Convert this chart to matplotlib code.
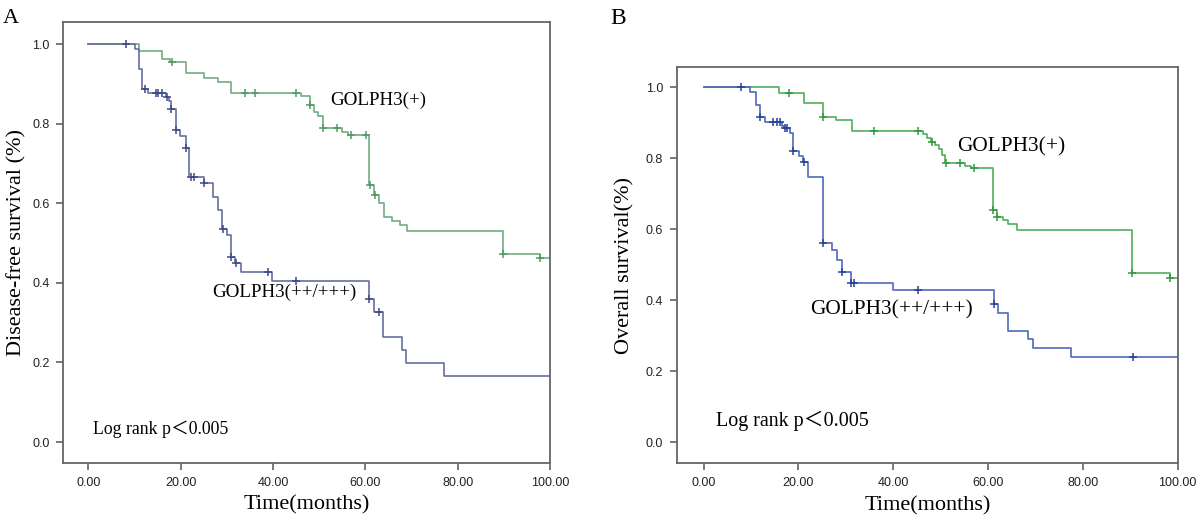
import numpy as np
import matplotlib
matplotlib.use("Agg")
import matplotlib.pyplot as plt

# ---------------- data ----------------
# Panel A: disease-free survival
a_pos_t = [0, 10.9, 16.0, 17.6, 21.1, 25.0, 28.1, 30.9, 46.0, 48.0, 48.9, 49.8, 50.9,
           55.0, 56.3, 60.8, 61.8, 62.9, 64.0, 65.8, 67.6, 69.0, 89.9, 97.8, 100.0]
a_pos_s = [1.0, 0.982, 0.962, 0.954, 0.927, 0.916, 0.906, 0.877, 0.870, 0.847, 0.830, 0.820, 0.789,
           0.780, 0.772, 0.646, 0.621, 0.600, 0.565, 0.556, 0.546, 0.531, 0.473, 0.462, 0.462]
a_pos_cens = [18.2, 34.0, 36.1, 45.0, 48.0, 50.9, 53.9, 56.8, 60.2, 61.0, 62.0, 89.9, 97.8]

a_hi_t = [0, 10.1, 10.9, 11.7, 12.9, 16.8, 17.5, 17.9, 18.9, 19.9, 21.1, 21.9, 25.0, 27.1, 28.0,
          29.0, 30.1, 30.9, 31.7, 33.1, 39.9, 60.9, 61.9, 63.9, 68.0, 68.9, 77.0, 100.0]
a_hi_s = [1.0, 0.988, 0.937, 0.887, 0.878, 0.868, 0.857, 0.836, 0.785, 0.769, 0.738, 0.665, 0.650,
          0.617, 0.583, 0.535, 0.520, 0.466, 0.451, 0.428, 0.405, 0.359, 0.328, 0.265, 0.231,
          0.198, 0.166, 0.166]
a_hi_cens = [8.1, 12.2, 14.7, 15.2, 15.9, 17.0, 18.0, 18.9, 21.1, 22.2, 22.9, 25.0, 29.1, 30.9,
             32.0, 39.0, 45.0, 60.9, 62.9]

# Panel B: overall survival
b_pos_t = [0, 15.9, 21.2, 25.1, 28.0, 31.3, 46.2, 47.2, 48.0, 48.9, 49.7, 50.4, 51.0, 55.2, 56.5,
           61.1, 61.9, 63.2, 64.3, 66.1, 90.3, 98.4, 100.0]
b_pos_s = [1.0, 0.983, 0.955, 0.915, 0.908, 0.878, 0.868, 0.857, 0.847, 0.837, 0.825, 0.809, 0.787,
           0.778, 0.772, 0.654, 0.635, 0.626, 0.615, 0.598, 0.477, 0.463, 0.463]
b_pos_cens = [18.0, 25.1, 36.0, 45.2, 48.2, 51.2, 54.1, 57.1, 61.1, 62.0, 90.3, 98.4]

b_hi_t = [0, 9.8, 11.1, 11.9, 13.0, 16.5, 17.0, 18.2, 18.9, 20.2, 21.0, 22.0, 25.1, 27.0, 28.1,
          29.2, 31.0, 40.0, 61.3, 62.2, 64.3, 68.4, 69.5, 77.5, 100.0]
b_hi_s = [1.0, 0.988, 0.950, 0.915, 0.903, 0.891, 0.884, 0.870, 0.821, 0.805, 0.790, 0.748, 0.560,
          0.541, 0.513, 0.480, 0.447, 0.428, 0.389, 0.365, 0.314, 0.290, 0.264, 0.239, 0.239]
b_hi_cens = [7.9, 11.9, 14.7, 15.4, 16.1, 17.2, 17.7, 18.9, 21.2, 25.1, 29.2, 31.0, 31.8, 45.2,
             61.3, 90.5]

x_ticks = [0, 20, 40, 60, 80, 100]
y_ticks = [0.0, 0.2, 0.4, 0.6, 0.8, 1.0]

SERIF = ["Liberation Serif", "DejaVu Serif"]
SERIF_CJK = ["Liberation Serif", "Noto Sans CJK SC", "DejaVu Sans"]
SANS = ["Liberation Sans", "DejaVu Sans"]

fig = plt.figure(figsize=(12, 5.21), dpi=100)
axA = fig.add_axes([0.0528, 0.1119, 0.4055, 0.8453])
axB = fig.add_axes([0.5642, 0.1107, 0.4175, 0.7613])


def km(ax, t, s, cens, color, mcolor):
    t = np.asarray(t)
    s = np.asarray(s)
    ax.step(t, s, where="post", color=color, lw=1.2)
    c = np.asarray(cens)
    idx = np.searchsorted(t, c, side="right") - 1
    ax.plot(c, s[idx], ls="none", marker="+", ms=6, mew=1.1, color=mcolor)


def style(ax, xlim, ylim):
    ax.set_xlim(*xlim)
    ax.set_ylim(*ylim)
    ax.set_xticks(x_ticks)
    ax.set_xticklabels([f"{v:.2f}" for v in x_ticks], fontfamily=SANS, fontsize=9, color="#222222")
    ax.set_yticks(y_ticks)
    ax.set_yticklabels([f"{v:.1f}" for v in y_ticks], fontfamily=SANS, fontsize=9, color="#222222")
    ax.tick_params(direction="out", length=5, width=1.1, color="#555555", pad=5)
    for sp in ax.spines.values():
        sp.set_color("#666666")
        sp.set_linewidth(1.3)


# Panel A
km(axA, a_pos_t, a_pos_s, a_pos_cens, "#72ab82", "#4f9a63")
km(axA, a_hi_t, a_hi_s, a_hi_cens, "#66709e", "#3d4a86")
style(axA, (-5.4, 100.0), (-0.052, 1.055))
axA.text(52.5, 0.858, "GOLPH3(+)", fontfamily=SERIF, fontsize=13.7, va="center", ha="left")
axA.text(26.8, 0.376, "GOLPH3(++/+++)", fontfamily=SERIF, fontsize=13.7, va="center", ha="left")
axA.text(1.0, 0.033, "Log rank p＜0.005", fontfamily=SERIF_CJK, fontsize=12.8, va="center", ha="left")
axA.set_xlabel("Time(months)", fontfamily=SERIF, fontsize=16, labelpad=5)
axA.set_ylabel("Disease-free survival (%)", fontfamily=SERIF, fontsize=16, labelpad=4)

# Panel B
km(axB, b_pos_t, b_pos_s, b_pos_cens, "#4fae5c", "#2f9a40")
km(axB, b_hi_t, b_hi_s, b_hi_cens, "#5069bb", "#2a3f96")
style(axB, (-5.6, 100.1), (-0.06, 1.058))
axB.text(53.4, 0.833, "GOLPH3(+)", fontfamily=SERIF, fontsize=15.4, va="center", ha="left")
axB.text(22.5, 0.373, "GOLPH3(++/+++)", fontfamily=SERIF, fontsize=15.4, va="center", ha="left")
axB.text(2.7, 0.06, "Log rank p＜0.005", fontfamily=SERIF_CJK, fontsize=14.4, va="center", ha="left")
axB.set_xlabel("Time(months)", fontfamily=SERIF, fontsize=16, labelpad=5)
axB.set_ylabel("Overall survival(%)", fontfamily=SERIF, fontsize=16, labelpad=8)

fig.text(0.0025, 0.982, "A", fontfamily=SERIF, fontsize=16, va="top", ha="left")
fig.text(0.509, 0.984, "B", fontfamily=SERIF, fontsize=17, va="top", ha="left")

fig.savefig("out.png", dpi=100, facecolor="white")
